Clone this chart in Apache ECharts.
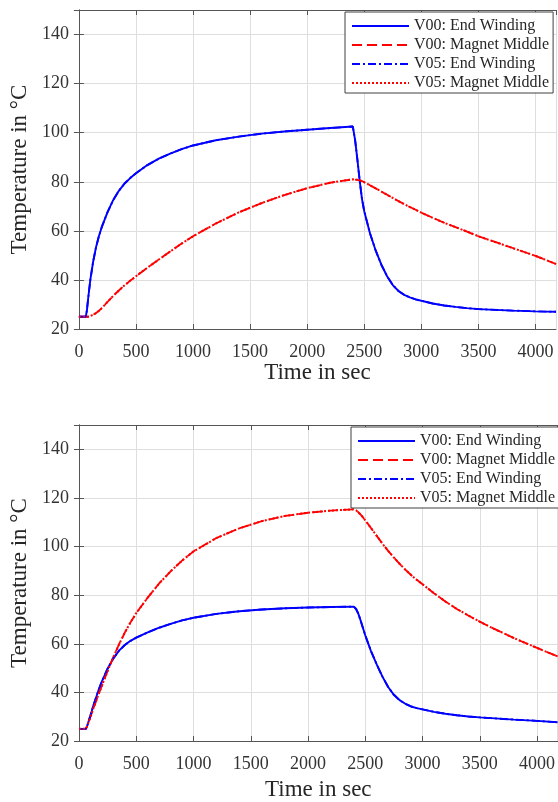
<!DOCTYPE html>
<html>
<head>
<meta charset="utf-8">
<script src="https://cdn.jsdelivr.net/npm/echarts@6/dist/echarts.min.js"></script>
<style>
  html, body { margin: 0; padding: 0; background: #fff; }
  #main { width: 558px; height: 802px; }
</style>
</head>
<body>
<div id="main"></div>
<script>
// time samples (sec), shared by all curves
var time = [0, 60, 70, 80, 90, 100, 125, 150, 175, 200, 250, 300, 350, 400, 450, 500,
  600, 700, 800, 900, 1000, 1200, 1400, 1600, 1800, 2000, 2200, 2400,
  2420, 2440, 2460, 2480, 2500, 2550, 2600, 2650, 2700, 2750, 2800, 2850, 2900, 2950,
  3000, 3100, 3200, 3300, 3400, 3500, 3600, 3800, 4000, 4180];

// upper plot
var topWinding = [25, 25, 27.5, 32, 36, 40, 47.5, 53.3, 57.8, 61.5, 67.5, 72.5, 76.3, 79.3, 81.5, 83.5,
  86.8, 89.4, 91.5, 93.3, 94.8, 96.9, 98.4, 99.6, 100.5, 101.2, 101.9, 102.5,
  97, 89, 80.5, 73, 68, 59, 52, 46.2, 41.5, 37.9, 35.5, 33.9, 32.9, 32.1,
  31.5, 30.4, 29.6, 29, 28.5, 28.1, 27.9, 27.5, 27.2, 27];
var topMagnet = [25, 25, 25, 25, 25.1, 25.3, 25.8, 26.5, 27.4, 28.5, 31, 33.5, 35.7, 37.8, 39.7, 41.5,
  45, 48.3, 51.6, 54.8, 57.8, 63, 67.5, 71.3, 74.6, 77.4, 79.6, 81,
  80.9, 80.8, 80.6, 80.3, 79.8, 78.6, 77.3, 76, 74.7, 73.4, 72.1, 70.9, 69.7, 68.6,
  67.4, 65.3, 63.3, 61.5, 59.7, 57.8, 56.2, 53, 49.8, 46.5];

// lower plot
var lowWinding = [25, 25, 26, 27.5, 29, 30.5, 34.5, 38, 41.5, 44.5, 49.8, 54, 57.2, 59.5, 61.2, 62.5,
  64.7, 66.6, 68.2, 69.6, 70.7, 72.3, 73.4, 74.1, 74.6, 74.9, 75.1, 75.3,
  74.3, 72.3, 69.5, 66.5, 63.5, 57, 51.5, 46.5, 42.2, 39, 36.8, 35.3, 34.2, 33.5,
  33, 32, 31.2, 30.6, 30.1, 29.7, 29.4, 28.8, 28.3, 27.7];
var lowMagnet = [25, 25, 26, 27.3, 28.6, 30, 33.3, 36.5, 39.7, 42.8, 48.8, 54.5, 59.8, 64.6, 68.8, 72.6,
  79, 84.8, 89.8, 94.2, 98, 103.5, 107.5, 110.5, 112.6, 113.9, 114.8, 115.3,
  114.9, 114.1, 113.1, 112, 110.8, 107.6, 104.4, 101.2, 98.2, 95.5, 92.9, 90.5, 88.3, 86.3,
  84.5, 80.8, 77.4, 74.3, 71.6, 69.1, 66.7, 62.3, 58.3, 54.8];

var names = ['V00: End Winding', 'V00: Magnet Middle', 'V05: End Winding', 'V05: Magnet Middle'];

var FONT = 'Liberation Serif';
var AXIS_COLOR = '#555';
var TEXT_COLOR = '#333';

function pairs(xs, ys) {
  return xs.map(function (x, i) { return [x, ys[i]]; });
}

// tick label as rich text so the serif font is used for sure, no thousands separator
function plain(v) { return '{s|' + v + '}'; }
var tickRich = { s: { fontFamily: FONT, fontSize: 18, color: TEXT_COLOR } };

function xAxisFor(gi, gap, frame) {
  return {
    type: 'value', gridIndex: gi, position: frame ? 'top' : 'bottom',
    min: 0, max: 4180, interval: 500,
    name: frame ? '' : 'Time in sec', nameLocation: 'middle', nameGap: gap,
    nameTextStyle: { fontFamily: FONT, fontSize: 23, color: '#262626' },
    axisLine: { show: true, lineStyle: { color: AXIS_COLOR, width: 1 } },
    axisTick: { show: true, inside: true, length: 5, lineStyle: { color: AXIS_COLOR } },
    axisLabel: {
      show: !frame, margin: 14, showMaxLabel: false, formatter: plain, rich: tickRich,
      fontFamily: FONT, fontSize: 18, color: TEXT_COLOR
    },
    splitLine: { show: !frame, lineStyle: { color: '#dedede', width: 1 } }
  };
}

function yAxisFor(gi, gap, frame) {
  return {
    type: 'value', gridIndex: gi, position: frame ? 'right' : 'left',
    min: 20, max: 150, interval: 20,
    name: frame ? '' : 'Temperature in °C', nameLocation: 'middle', nameGap: gap,
    nameTextStyle: { fontFamily: FONT, fontSize: 23, color: '#262626' },
    axisLine: { show: true, lineStyle: { color: AXIS_COLOR, width: 1 } },
    axisTick: { show: true, inside: true, length: 5, lineStyle: { color: AXIS_COLOR } },
    axisLabel: {
      show: !frame, margin: 10, showMaxLabel: false, formatter: plain, rich: tickRich,
      fontFamily: FONT, fontSize: 18, color: TEXT_COLOR
    },
    splitLine: { show: !frame, lineStyle: { color: '#dedede', width: 1 } }
  };
}

// line styles: solid / dashed / dash-dot / dotted
var styles = [
  { color: '#0000ff', type: 'solid', width: 1.9 },
  { color: '#ff0000', type: [10, 5], width: 1.8 },
  { color: '#0000ff', type: [8, 3, 2, 3], width: 1.9 },
  { color: '#ff0000', type: [2, 2], width: 2 }
];

function makeSeries(axis, winding, magnet) {
  var curves = [winding, magnet, winding, magnet];
  return curves.map(function (ys, i) {
    return {
      name: names[i], type: 'line',
      xAxisIndex: axis, yAxisIndex: axis,
      data: pairs(time, ys),
      symbol: 'none', showSymbol: false, smooth: false,
      color: styles[i].color,
      lineStyle: styles[i]
    };
  });
}

function legendFor(left, top) {
  return {
    left: left, top: top, orient: 'vertical',
    data: names, selectedMode: false,
    itemWidth: 57, itemHeight: 12, itemGap: 3,
    padding: [6, 4, 2, 6],
    // hide the symbol in the middle of the legend line
    itemStyle: { color: 'rgba(0,0,0,0)', borderColor: 'rgba(0,0,0,0)', borderWidth: 0, opacity: 0 },
    backgroundColor: '#fff', borderColor: '#404040', borderWidth: 1,
    textStyle: { fontFamily: FONT, fontSize: 16, color: '#262626' }
  };
}

var myChart = echarts.init(document.getElementById('main'));
myChart.setOption({
  animation: false,
  backgroundColor: '#fff',
  textStyle: { fontFamily: FONT },
  grid: [
    { left: 74, top: 10, right: 2, height: 319 },
    { left: 79, top: 425, right: -4, height: 321 }
  ],
  xAxis: [xAxisFor(0, 32, false), xAxisFor(0, 0, true), xAxisFor(1, 37, false), xAxisFor(1, 0, true)],
  yAxis: [yAxisFor(0, 46, false), yAxisFor(0, 0, true), yAxisFor(1, 43, false), yAxisFor(1, 0, true)],
  legend: [legendFor(345, 12), legendFor(351, 427)],
  series: makeSeries(0, topWinding, topMagnet).concat(makeSeries(2, lowWinding, lowMagnet))
});
</script>
</body>
</html>
